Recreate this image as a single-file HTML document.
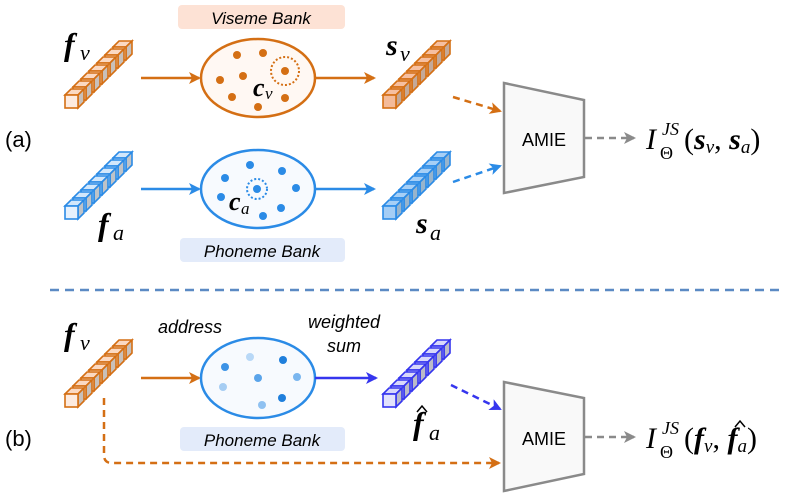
<!DOCTYPE html>
<html><head><meta charset="utf-8"><style>
body{margin:0;background:#fff;}
svg{display:block;}
.m{font-family:"Liberation Serif",serif;font-style:italic;}
.s{font-family:"Liberation Sans",sans-serif;}
</style></head><body>
<svg width="789" height="497" viewBox="0 0 789 497" xmlns="http://www.w3.org/2000/svg">
<defs>
<g id="co"><polygon points="0,0 6,-6 19,-6 13,0" fill="#fbd9c2" stroke="#d46f14" stroke-width="1.6"/><polygon points="13,0 19,-6 19,7 13,13" fill="#c8c0ba" stroke="#d46f14" stroke-width="1.6"/><rect x="0" y="0" width="13" height="13" fill="#fdebe0" stroke="#d46f14" stroke-width="1.6"/></g>
<g id="co2"><polygon points="0,0 6,-6 19,-6 13,0" fill="#f6bfa0" stroke="#d46f14" stroke-width="1.6"/><polygon points="13,0 19,-6 19,7 13,13" fill="#c4a999" stroke="#d46f14" stroke-width="1.6"/><rect x="0" y="0" width="13" height="13" fill="#f4bb9a" stroke="#d46f14" stroke-width="1.6"/></g>
<g id="cb"><polygon points="0,0 6,-6 19,-6 13,0" fill="#d2e7fb" stroke="#2b8be6" stroke-width="1.6"/><polygon points="13,0 19,-6 19,7 13,13" fill="#bfc3c8" stroke="#2b8be6" stroke-width="1.6"/><rect x="0" y="0" width="13" height="13" fill="#e6f1fd" stroke="#2b8be6" stroke-width="1.6"/></g>
<g id="cb2"><polygon points="0,0 6,-6 19,-6 13,0" fill="#a6cff6" stroke="#2b8be6" stroke-width="1.6"/><polygon points="13,0 19,-6 19,7 13,13" fill="#98b4cc" stroke="#2b8be6" stroke-width="1.6"/><rect x="0" y="0" width="13" height="13" fill="#a4cdf5" stroke="#2b8be6" stroke-width="1.6"/></g>
<g id="cp"><polygon points="0,0 6,-6 19,-6 13,0" fill="#d8d8fb" stroke="#3535ee" stroke-width="1.6"/><polygon points="13,0 19,-6 19,7 13,13" fill="#bbbbc8" stroke="#3535ee" stroke-width="1.6"/><rect x="0" y="0" width="13" height="13" fill="#e2e2fc" stroke="#3535ee" stroke-width="1.6"/></g>
<g id="barO"><use href="#co" x="48" y="-48"/><use href="#co" x="40" y="-40"/><use href="#co" x="32" y="-32"/><use href="#co" x="24" y="-24"/><use href="#co" x="16" y="-16"/><use href="#co" x="8" y="-8"/><use href="#co"/></g>
<g id="barO2"><use href="#co2" x="48" y="-48"/><use href="#co2" x="40" y="-40"/><use href="#co2" x="32" y="-32"/><use href="#co2" x="24" y="-24"/><use href="#co2" x="16" y="-16"/><use href="#co2" x="8" y="-8"/><use href="#co2"/></g>
<g id="barB"><use href="#cb" x="48" y="-48"/><use href="#cb" x="40" y="-40"/><use href="#cb" x="32" y="-32"/><use href="#cb" x="24" y="-24"/><use href="#cb" x="16" y="-16"/><use href="#cb" x="8" y="-8"/><use href="#cb"/></g>
<g id="barB2"><use href="#cb2" x="48" y="-48"/><use href="#cb2" x="40" y="-40"/><use href="#cb2" x="32" y="-32"/><use href="#cb2" x="24" y="-24"/><use href="#cb2" x="16" y="-16"/><use href="#cb2" x="8" y="-8"/><use href="#cb2"/></g>
<g id="barP"><use href="#cp" x="48" y="-48"/><use href="#cp" x="40" y="-40"/><use href="#cp" x="32" y="-32"/><use href="#cp" x="24" y="-24"/><use href="#cp" x="16" y="-16"/><use href="#cp" x="8" y="-8"/><use href="#cp"/></g>
<marker id="ao" markerWidth="12" markerHeight="12" refX="10" refY="6" orient="auto" markerUnits="userSpaceOnUse"><path d="M0,0 L12,6 L0,12 L3,6z" fill="#d46f14"/></marker>
<marker id="ab" markerWidth="12" markerHeight="12" refX="10" refY="6" orient="auto" markerUnits="userSpaceOnUse"><path d="M0,0 L12,6 L0,12 L3,6z" fill="#2b8be6"/></marker>
<marker id="ap" markerWidth="12" markerHeight="12" refX="10" refY="6" orient="auto" markerUnits="userSpaceOnUse"><path d="M0,0 L12,6 L0,12 L3,6z" fill="#3535ee"/></marker>
<marker id="ag" markerWidth="12" markerHeight="12" refX="10" refY="6" orient="auto" markerUnits="userSpaceOnUse"><path d="M0,0 L12,6 L0,12 L3,6z" fill="#8a8a8a"/></marker>
</defs>

<!-- (a) -->
<text x="5" y="147" class="s" font-size="22">(a)</text>
<rect x="178" y="5" width="167" height="24" rx="4" fill="#fde2d5"/>
<text x="261" y="24" class="s" font-size="17" font-style="italic" text-anchor="middle">Viseme Bank</text>
<text class="m" x="64" y="55" font-size="32" font-weight="bold">f</text><text class="m" x="80" y="60" font-size="22">v</text>
<use href="#barO" x="65" y="95"/>
<line x1="141" y1="78" x2="199" y2="78" stroke="#d46f14" stroke-width="2.5" marker-end="url(#ao)"/>
<ellipse cx="258" cy="78" rx="57" ry="39" fill="#fff8f3" stroke="#d46f14" stroke-width="2.5"/>
<g fill="#d46f14"><circle cx="237" cy="55" r="4"/><circle cx="263" cy="53" r="4"/><circle cx="220" cy="80" r="4"/><circle cx="243" cy="76" r="4"/><circle cx="232" cy="97" r="4"/><circle cx="258" cy="107" r="4"/><circle cx="285" cy="98" r="4"/><circle cx="285" cy="71" r="4"/></g>
<circle cx="285" cy="71" r="14" fill="none" stroke="#d46f14" stroke-width="2" stroke-dasharray="2,2"/>
<text class="m" x="253" y="96" font-size="26" font-weight="bold">c</text><text class="m" x="265" y="99" font-size="17">v</text>
<line x1="315" y1="78" x2="374" y2="78" stroke="#d46f14" stroke-width="2.5" marker-end="url(#ao)"/>
<text class="m" x="386" y="55" font-size="30" font-weight="bold">s</text><text class="m" x="400" y="61" font-size="22">v</text>
<use href="#barO2" x="383" y="95"/>
<line x1="453" y1="97" x2="500" y2="111" stroke="#d46f14" stroke-width="2.5" stroke-dasharray="7,5" marker-end="url(#ao)"/>

<use href="#barB" x="65" y="206"/>
<text class="m" x="98" y="235" font-size="32" font-weight="bold">f</text><text class="m" x="113" y="240" font-size="22">a</text>
<line x1="141" y1="189" x2="199" y2="189" stroke="#2b8be6" stroke-width="2.5" marker-end="url(#ab)"/>
<ellipse cx="258" cy="189" rx="57" ry="39" fill="#f7fafe" stroke="#2b8be6" stroke-width="2.5"/>
<g fill="#2b8be6"><circle cx="225" cy="178" r="4"/><circle cx="250" cy="165" r="4"/><circle cx="282" cy="171" r="4"/><circle cx="296" cy="188" r="4"/><circle cx="221" cy="197" r="4"/><circle cx="281" cy="208" r="4"/><circle cx="263" cy="216" r="4"/><circle cx="257" cy="189" r="4"/></g>
<circle cx="257" cy="189" r="10" fill="none" stroke="#2b8be6" stroke-width="2" stroke-dasharray="2,2"/>
<text class="m" x="229" y="210" font-size="26" font-weight="bold">c</text><text class="m" x="241" y="214" font-size="17">a</text>
<line x1="315" y1="189" x2="374" y2="189" stroke="#2b8be6" stroke-width="2.5" marker-end="url(#ab)"/>
<use href="#barB2" x="383" y="206"/>
<text class="m" x="416" y="233" font-size="30" font-weight="bold">s</text><text class="m" x="430" y="240" font-size="22">a</text>
<line x1="453" y1="182" x2="500" y2="166" stroke="#2b8be6" stroke-width="2.5" stroke-dasharray="7,5" marker-end="url(#ab)"/>
<rect x="180" y="238" width="165" height="24" rx="4" fill="#e3ebfa"/>
<text x="262" y="257" class="s" font-size="17" font-style="italic" text-anchor="middle">Phoneme Bank</text>

<polygon points="504,83 584,100 584,177 504,193" fill="#f9f9f9" stroke="#8a8a8a" stroke-width="2.5"/>
<text x="544" y="146" class="s" font-size="18" text-anchor="middle">AMIE</text>
<line x1="585" y1="138" x2="634" y2="138" stroke="#8a8a8a" stroke-width="2.5" stroke-dasharray="7,5" marker-end="url(#ag)"/>
<text class="m" x="646" y="149" font-size="30">I</text>
<text class="m" x="662" y="135" font-size="18">JS</text>
<text x="660" y="159" font-family="Liberation Serif,serif" font-size="18">Θ</text>
<text class="m" x="684" y="149" font-size="30"><tspan font-style="normal">(</tspan><tspan font-weight="bold">s</tspan><tspan font-size="19" dy="4">v</tspan><tspan dy="-4" font-style="normal">, </tspan><tspan font-weight="bold">s</tspan><tspan font-size="19" dy="4">a</tspan><tspan dy="-4" font-style="normal">)</tspan></text>

<line x1="50" y1="290" x2="782" y2="290" stroke="#5b8ac4" stroke-width="2.5" stroke-dasharray="9,6"/>

<!-- (b) -->
<text x="5" y="446" class="s" font-size="22">(b)</text>
<text class="m" x="64" y="345" font-size="32" font-weight="bold">f</text><text class="m" x="80" y="350" font-size="22">v</text>
<path d="M104,398 L104,455 Q104,463 112,463 L499,463" fill="none" stroke="#d46f14" stroke-width="2.5" stroke-dasharray="7,5" marker-end="url(#ao)"/>
<use href="#barO" x="65" y="394"/>
<text x="190" y="333" class="s" font-size="18" font-style="italic" text-anchor="middle">address</text>
<text x="344" y="328" class="s" font-size="18" font-style="italic" text-anchor="middle">weighted</text>
<text x="344" y="352" class="s" font-size="18" font-style="italic" text-anchor="middle">sum</text>
<line x1="141" y1="378" x2="199" y2="378" stroke="#d46f14" stroke-width="2.5" marker-end="url(#ao)"/>
<ellipse cx="258" cy="378" rx="57" ry="40" fill="#f7fafe" stroke="#2b8be6" stroke-width="2.5"/>
<circle cx="225" cy="367" r="4" fill="#3d93e6"/><circle cx="250" cy="357" r="4" fill="#b8d8f7"/><circle cx="283" cy="360" r="4" fill="#1f7fdc"/><circle cx="297" cy="377" r="4" fill="#7ab6ef"/><circle cx="223" cy="387" r="4" fill="#a6cdf3"/><circle cx="258" cy="378" r="4" fill="#5aa4ea"/><circle cx="282" cy="398" r="4" fill="#1f7fdc"/><circle cx="262" cy="405" r="4" fill="#8fc1f1"/>
<line x1="315" y1="378" x2="376" y2="378" stroke="#3535ee" stroke-width="2.5" marker-end="url(#ap)"/>
<use href="#barP" x="383" y="394"/>
<text class="m" x="413" y="434" font-size="32" font-weight="bold">f</text><path d="M417,412 L422,406 L427,412" fill="none" stroke="#000" stroke-width="1.5"/><text class="m" x="429" y="440" font-size="22">a</text>
<line x1="451" y1="385" x2="500" y2="409" stroke="#3535ee" stroke-width="2.5" stroke-dasharray="7,5" marker-end="url(#ap)"/>
<rect x="180" y="427" width="165" height="24" rx="4" fill="#e3ebfa"/>
<text x="262" y="446" class="s" font-size="17" font-style="italic" text-anchor="middle">Phoneme Bank</text>

<polygon points="504,382 584,398 584,474 504,491" fill="#f9f9f9" stroke="#8a8a8a" stroke-width="2.5"/>
<text x="544" y="445" class="s" font-size="18" text-anchor="middle">AMIE</text>
<line x1="585" y1="437" x2="634" y2="437" stroke="#8a8a8a" stroke-width="2.5" stroke-dasharray="7,5" marker-end="url(#ag)"/>
<text class="m" x="646" y="448" font-size="30">I</text>
<text class="m" x="662" y="434" font-size="18">JS</text>
<text x="660" y="458" font-family="Liberation Serif,serif" font-size="18">Θ</text>
<text class="m" x="684" y="448" font-size="30"><tspan font-style="normal">(</tspan><tspan font-weight="bold">f</tspan><tspan font-size="19" dy="4">v</tspan><tspan dy="-4" font-style="normal">, </tspan><tspan font-weight="bold">f</tspan><tspan font-size="19" dy="4">a</tspan><tspan dy="-4" font-style="normal">)</tspan></text>
<path d="M735,427 L740,421 L745,427" fill="none" stroke="#000" stroke-width="1.5"/>
</svg>
</body></html>
